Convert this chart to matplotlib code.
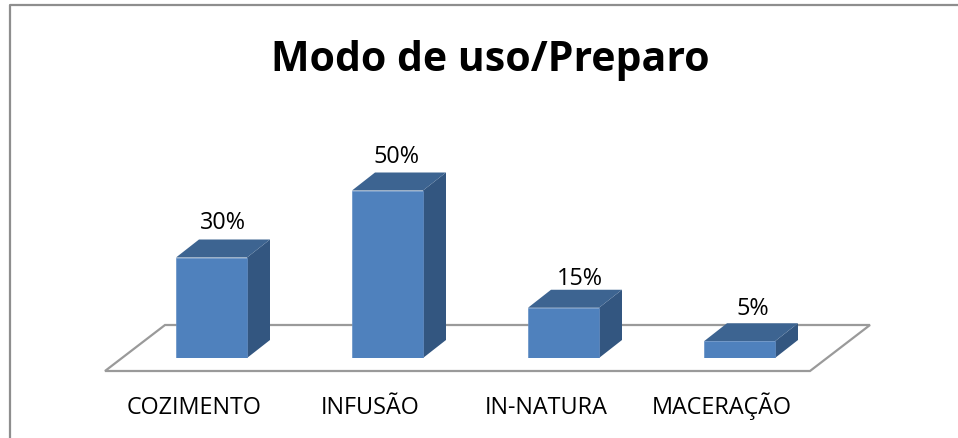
import matplotlib
matplotlib.use("Agg")
import matplotlib.pyplot as plt
from matplotlib.patches import Polygon
from matplotlib.lines import Line2D
import numpy as np

categories = ["COZIMENTO", "INFUSÃO", "IN-NATURA", "MACERAÇÃO"]
values = [30, 50, 15, 5]
value_labels = ["30%", "50%", "15%", "5%"]
title = "Modo de uso/Preparo"

W, H = 958, 439
FONT = "Open Sans"
fig = plt.figure(figsize=(W / 100, H / 100), dpi=100, facecolor="white")

# axes: x index, y percent; baseline at pixel row 359
PX_Y = 3.35
PX_X = 176.0
x0_px = 211.5
BASE = 359
ax = fig.add_axes([0, (H - BASE) / H, 1, BASE / H])
ax.set_xlim(-x0_px / PX_X, (W - x0_px) / PX_X)
ax.set_ylim(0, BASE / PX_Y)
ax.patch.set_alpha(0)
for s in ax.spines.values():
    s.set_visible(False)
ax.set_yticks([])

bar_w = 71 / PX_X
dx = 23 / PX_X
dy = 18 / PX_Y
x = np.arange(len(categories))

# floor
fl = -13 / PX_Y
bk = 33 / PX_Y
floor_x = [(105 - x0_px) / PX_X, (810 - x0_px) / PX_X, (870 - x0_px) / PX_X, (165 - x0_px) / PX_X]
floor_y = [fl, fl, bk, bk]
ax.add_patch(Polygon(list(zip(floor_x, floor_y)), closed=True, fc="white", ec="#9a9a9a",
                     lw=1.6, clip_on=False, zorder=1))

FRONT, TOP, SIDE = "#4f81bd", "#3d6491", "#335680"
for xi, v in zip(x, values):
    l, r = xi - bar_w / 2, xi + bar_w / 2
    ax.add_patch(Polygon([(r, 0), (r + dx, dy), (r + dx, v + dy), (r, v)], fc=SIDE, ec="none", zorder=3))
    ax.add_patch(Polygon([(l, v), (r, v), (r + dx, v + dy), (l + dx, v + dy)], fc=TOP, ec="none", zorder=3))
    ax.bar(xi, v, width=bar_w, color=FRONT, edgecolor="#6590c6", linewidth=0.5, zorder=4)

# per-label placement, in pixels relative to the bar's rear top edge
nudges_px = {"30%": (0, 11), "50%": (-3, 10), "15%": (5, 6), "5%": (2, 9)}
for xi, v, t in zip(x, values, value_labels):
    nx, ny = nudges_px[t]
    ax.annotate(t, (xi + dx / 2, v + dy), xytext=(nx * 0.72, ny * 0.72), textcoords="offset points",
                ha="center", va="baseline", fontsize=16.8, family=FONT, color="black")

ax.set_xticks(x - 17.5 / PX_X, categories, fontsize=16.8, family=FONT, color="black")
ax.tick_params(axis="x", length=0, pad=39.5)
for lab in ax.get_xticklabels():
    lab.set_va("baseline")

fig.text(490.5 / W, 1 - 71 / H, title, fontsize=29.5, fontweight="bold", family=FONT,
         ha="center", va="baseline", color="black")

# outer border
bc = "#8e8e8e"
L, T, R = 9.5, 6, 958
fig.add_artist(Line2D([L / W, L / W, R / W], [0, 1 - T / H, 1 - T / H],
                      transform=fig.transFigure, color=bc, lw=1.6))

fig.savefig("out.png", dpi=100)
